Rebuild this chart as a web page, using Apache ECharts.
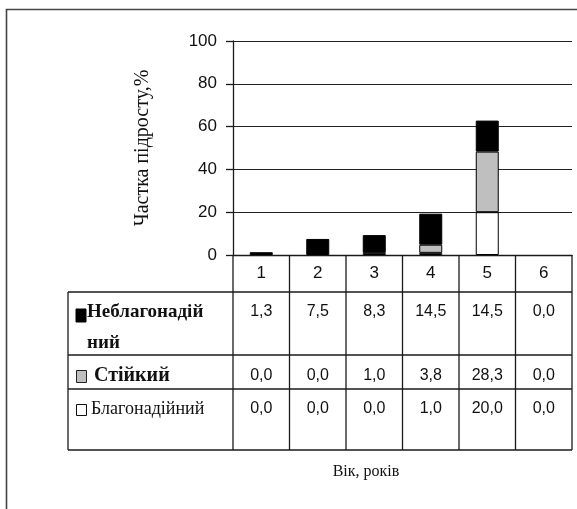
<!DOCTYPE html>
<html>
<head>
<meta charset="utf-8">
<script src="https://cdn.jsdelivr.net/npm/echarts@6/dist/echarts.min.js"></script>
<style>
  html, body { margin: 0; padding: 0; background: #fff; }
  #chart { width: 577px; height: 509px; }
</style>
</head>
<body>
<div id="chart"></div>
<script>
// Age classes (years)
const categories = ['1', '2', '3', '4', '5', '6'];
// Share of young growth by condition, %
const unreliable = [1.3, 7.5, 8.3, 14.5, 14.5, 0.0];  // Неблагонадійний
const stable     = [0.0, 0.0, 1.0, 3.8, 28.3, 0.0];   // Стійкий
const reliable   = [0.0, 0.0, 0.0, 1.0, 20.0, 0.0];   // Благонадійний
const yMin = 0, yMax = 100, yStep = 20;

const SERIF = '"Liberation Serif", "Times New Roman", serif';
const SANS = '"Liberation Sans", Arial, sans-serif';
const INK = '#111';
const RULE = '#1a1a1a';

// zero-height segments get no outline so they leave no stub on the axis
const barData = arr => arr.map(v => (v === 0 ? { value: v, itemStyle: { borderWidth: 0 } } : v));

const chart = echarts.init(document.getElementById('chart'), null, { renderer: 'canvas' });

chart.setOption({
  animation: false,
  backgroundColor: '#fff',
  grid: { left: 233, right: 5, top: 41, bottom: 254, containLabel: false },
  xAxis: {
    type: 'category',
    data: categories,
    boundaryGap: true,
    axisLine: { show: true, lineStyle: { color: RULE, width: 1.3 } },
    axisTick: { show: false },
    axisLabel: { margin: 10, fontFamily: SANS, fontSize: 17, color: INK }
  },
  yAxis: {
    type: 'value',
    min: yMin, max: yMax, interval: yStep,
    name: 'Частка підросту,%',
    nameLocation: 'middle',
    nameRotate: 90,
    nameGap: 80,
    nameTextStyle: { fontFamily: SERIF, fontSize: 20, color: INK },
    axisLine: { show: true, lineStyle: { color: RULE, width: 1.3 } },
    axisTick: { show: true, inside: false, length: 7, lineStyle: { color: RULE, width: 1.3 } },
    axisLabel: { margin: 16, fontFamily: SANS, fontSize: 17, color: INK },
    splitLine: { show: true, lineStyle: { color: '#222', width: 1.2 } }
  },
  series: [
    {
      name: 'Благонадійний', type: 'bar', stack: 'total', data: barData(reliable), barWidth: 23,
      itemStyle: { color: '#ffffff', borderColor: '#000', borderWidth: 1 }
    },
    {
      name: 'Стійкий', type: 'bar', stack: 'total', data: barData(stable), barWidth: 23,
      itemStyle: { color: '#bfbfbf', borderColor: '#000', borderWidth: 1 }
    },
    {
      name: 'Неблагонадійний', type: 'bar', stack: 'total', data: barData(unreliable), barWidth: 23,
      itemStyle: { color: '#000000', borderColor: '#000', borderWidth: 1 }
    }
  ]
});

// Data table under the plot: column edges follow the category axis
const centers = categories.map((c, i) => chart.convertToPixel({ xAxisIndex: 0 }, i));
const colW = centers[1] - centers[0];
const colLeft = centers[0] - colW / 2;
const colRight = centers[centers.length - 1] + colW / 2;
const y0 = chart.convertToPixel({ yAxisIndex: 0 }, 0);
const tableLeft = 68;
const rowEdges = [y0, y0 + 37, y0 + 100, y0 + 134, y0 + 195];

const fmt = v => v.toFixed(1).replace('.', ',');
const g = [];

// outer frame
g.push({ type: 'rect', shape: { x: 6.5, y: 9.5, width: 700, height: 700 },
  style: { fill: null, stroke: '#444', lineWidth: 1.6 }, z: 1 });

const line = (x1, y1, x2, y2) => g.push({ type: 'line',
  shape: { x1, y1, x2, y2 }, style: { stroke: RULE, lineWidth: 1.3 }, z: 10 });

// horizontal rules
for (let r = 1; r < rowEdges.length; r++) line(tableLeft, rowEdges[r], colRight, rowEdges[r]);
// vertical rules
line(tableLeft, rowEdges[1], tableLeft, rowEdges[4]);
for (let k = 0; k <= categories.length; k++) {
  const x = colLeft + k * colW;
  line(x, rowEdges[0], x, rowEdges[4]);
}

const rows = [
  { values: unreliable, cy: y0 + 57 },
  { values: stable, cy: y0 + 121 },
  { values: reliable, cy: y0 + 154 }
];
rows.forEach(row => {
  row.values.forEach((v, i) => {
    g.push({ type: 'text', x: centers[i], y: row.cy, z: 11,
      style: { text: fmt(v), font: '16px ' + SANS, fill: INK, align: 'center', verticalAlign: 'middle' } });
  });
});

// row headers with legend keys
g.push({ type: 'rect', shape: { x: 76, y: y0 + 54, width: 10, height: 13 },
  style: { fill: '#000', stroke: '#000', lineWidth: 1 }, z: 11 });
g.push({ type: 'text', x: 87, y: y0 + 57, z: 11,
  style: { text: 'Неблагонадій', font: 'bold 19px ' + SERIF, fill: INK, align: 'left', verticalAlign: 'middle' } });
g.push({ type: 'text', x: 87, y: y0 + 88, z: 11,
  style: { text: 'ний', font: 'bold 19px ' + SERIF, fill: INK, align: 'left', verticalAlign: 'middle' } });

g.push({ type: 'rect', shape: { x: 76.5, y: y0 + 115.5, width: 10, height: 12 },
  style: { fill: '#bfbfbf', stroke: '#222', lineWidth: 1 }, z: 11 });
g.push({ type: 'text', x: 94, y: y0 + 121, z: 11,
  style: { text: 'Стійкий', font: 'bold 20px ' + SERIF, fill: INK, align: 'left', verticalAlign: 'middle' } });

g.push({ type: 'rect', shape: { x: 76.5, y: y0 + 149.5, width: 10, height: 11 },
  style: { fill: '#fff', stroke: '#111', lineWidth: 1 }, z: 11 });
g.push({ type: 'text', x: 91, y: y0 + 154, z: 11,
  style: { text: 'Благонадійний', font: '18px ' + SERIF, fill: INK, align: 'left', verticalAlign: 'middle' } });

// x axis title
g.push({ type: 'text', x: 366, y: 472, z: 11,
  style: { text: 'Вік, років', font: '16px ' + SERIF, fill: INK, align: 'center', verticalAlign: 'middle' } });

chart.setOption({ graphic: { elements: g } });
</script>
</body>
</html>
